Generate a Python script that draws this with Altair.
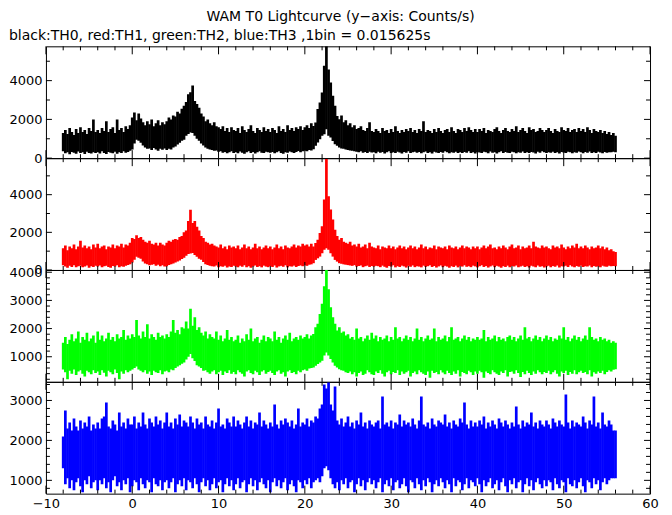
import altair as alt
import pandas as pd

# 1 bin shown here = 0.25 s envelope of the 0.015625 s light curve, t = -8 ... 56 s
T = [-8 + 0.25 * i for i in range(257)]

TH0_HI = [1300, 1450, 1250, 1550, 1350, 1200, 1500, 1300, 1600, 1350, 1450, 1250, 1550, 1400, 2000, 1350,
          1450, 1300, 1550, 1400, 1900, 1350, 1500, 1600, 1300, 2000, 1450, 1550, 1350, 1650, 1500, 1700,
          2100, 2350, 1950, 2300, 2050, 1850, 1700, 1900, 1750, 2000, 1650, 1800, 1950, 1700, 1850, 1750,
          1900, 2100, 2000, 2200, 2150, 2400, 2300, 2550, 2700, 2900, 3300, 3400, 3750, 2950, 2800, 2600,
          2300, 2150, 1900, 2000, 1800, 1700, 1850, 1650, 1600, 1500, 1650, 1400, 1550, 1350, 1600, 1450,
          1400, 1550, 1300, 1650, 1450, 1350, 1500, 1700, 1400, 1300, 1550, 1450, 1350, 1600, 1400, 1500,
          1350, 1550, 1450, 1300, 1650, 1400, 1500, 1350, 1700, 1450, 1550, 1400, 1600, 1500, 1650, 1450,
          1600, 1700, 1550, 1800, 1665, 1840, 2530, 2870, 3390, 4770, 5770, 4580, 3900, 3220, 2700, 2180,
          2010, 2200, 1850, 1950, 1700, 1800, 1600, 1700, 1500, 1550, 1650, 1450, 1400, 1550, 1850, 1400,
          1350, 1500, 1400, 1300, 1550, 1400, 1450, 1300, 1500, 1350, 1650, 1400, 1300, 1450, 1350, 1500,
          1400, 1550, 1350, 1450, 1300, 1500, 1400, 1900, 1350, 1450, 1400, 1300, 1500, 1350, 1550, 1400,
          1300, 1450, 1500, 1350, 1600, 1400, 1300, 1500, 1450, 1350, 1550, 1400, 1600, 1450, 1350, 1500,
          1350, 1500, 1400, 1550, 1300, 1450, 1400, 1350, 1500, 1600, 1400, 1300, 1450, 1550, 1400, 1350,
          1500, 1400, 1650, 1350, 1450, 1550, 1400, 1300, 1600, 1450, 1500, 1350, 1400, 1550, 1450, 1350,
          1450, 1550, 1400, 1300, 1500, 1400, 1350, 1600, 1450, 1400, 1550, 1350, 1450, 1500, 1350, 1550,
          1400, 1500, 1350, 1600, 1450, 1300, 1500, 1400, 1350, 1450, 1300, 1400, 1250, 1350, 1200, 1300,
          1150]
TH0_LO = [350, 250, 300, 200, 320, 280, 230, 340, 260, 300, 220, 330, 270, 240, 310, 260,
          300, 240, 350, 270, 220, 320, 280, 250, 330, 230, 300, 270, 350, 280, 320, 380,
          450, 750, 950, 900, 800, 650, 550, 480, 500, 420, 520, 450, 380, 480, 430, 500,
          420, 480, 450, 550, 600, 700, 800, 900, 950, 1150, 1250, 1320, 1300, 1150, 1000, 900,
          750, 650, 550, 480, 450, 420, 380, 400, 330, 350, 280, 320, 250, 300, 350, 270,
          300, 250, 340, 280, 230, 310, 360, 270, 320, 240, 300, 350, 280, 260, 330, 300,
          280, 320, 250, 300, 350, 270, 230, 310, 280, 340, 300, 260, 320, 370, 300, 350,
          380, 350, 420, 400, 465, 635, 805, 980, 1150, 1235, 1490, 1150, 1060, 890, 720, 635,
          550, 500, 480, 450, 420, 400, 380, 350, 330, 300, 350, 280, 320, 260, 330, 290,
          300, 250, 330, 280, 320, 240, 310, 350, 270, 300, 260, 330, 290, 240, 320, 280,
          350, 260, 300, 330, 280, 320, 250, 300, 340, 270, 310, 240, 330, 290, 260, 320,
          280, 350, 300, 250, 310, 280, 330, 270, 300, 260, 320, 280, 350, 270, 300, 240,
          320, 290, 260, 330, 300, 250, 340, 280, 310, 240, 300, 350, 270, 320, 280, 260,
          330, 300, 250, 310, 280, 340, 270, 300, 260, 320, 290, 240, 330, 280, 350, 300,
          260, 310, 280, 330, 270, 300, 240, 320, 290, 260, 330, 300, 250, 310, 280, 340,
          300, 250, 320, 280, 340, 270, 300, 260, 330, 290, 250, 320, 280, 310, 300, 330,
          300]

TH1_HI = [1150, 1300, 1050, 1250, 1150, 1350, 1100, 1250, 1550, 1200, 1300, 1150, 1250, 1100, 1350, 1200,
          1400, 1150, 1250, 1300, 1100, 1250, 1200, 1350, 1150, 1300, 1250, 1400, 1200, 1350, 1300, 1450,
          1700, 1650, 1850, 1700, 1750, 1600, 1500, 1450, 1550, 1400, 1350, 1450, 1300, 1450, 1350, 1300,
          1450, 1550, 1500, 1600, 1650, 1600, 1750, 1800, 2000, 2100, 2600, 3200, 2500, 2600, 2300, 2100,
          1800, 1700, 1500, 1450, 1350, 1400, 1300, 1250, 1200, 1350, 1150, 1250, 1100, 1300, 1200, 1250,
          1150, 1300, 1100, 1200, 1350, 1150, 1250, 1100, 1200, 1400, 1150, 1250, 1100, 1200, 1300, 1150,
          1250, 1100, 1200, 1350, 1150, 1250, 1100, 1300, 1200, 1150, 1250, 1350, 1200, 1300, 1250, 1400,
          1300, 1350, 1250, 1400, 1250, 1430, 1600, 1960, 2320, 3740, 5900, 3920, 3210, 2680, 2140, 1800,
          1600, 1700, 1500, 1450, 1400, 1500, 1300, 1350, 1250, 1400, 1200, 1250, 1350, 1150, 1450, 1250,
          1200, 1150, 1300, 1100, 1250, 1200, 1150, 1300, 1150, 1250, 1100, 1200, 1300, 1150, 1250, 1100,
          1200, 1300, 1150, 1250, 1100, 1200, 1350, 1150, 1250, 1100, 1200, 1150, 1300, 1100, 1250, 1200,
          1150, 1250, 1100, 1300, 1200, 1150, 1250, 1100, 1200, 1300, 1150, 1250, 1200, 1100, 1250, 1150,
          1250, 1100, 1200, 1300, 1150, 1250, 1350, 1150, 1200, 1100, 1250, 1150, 1300, 1200, 1100, 1250,
          1350, 1150, 1200, 1300, 1100, 1250, 1150, 1200, 1300, 1150, 1500, 1250, 1200, 1150, 1300, 1200,
          1250, 1150, 1100, 1300, 1200, 1250, 1150, 1350, 1200, 1100, 1250, 1150, 1300, 1200, 1400, 1150,
          1250, 1150, 1300, 1200, 1100, 1250, 1150, 1200, 1300, 1150, 1250, 1100, 1200, 1050, 1100, 1000,
          950]
TH1_LO = [250, 180, 120, 220, 160, 250, 140, 200, 230, 150, 180, 240, 120, 200, 160, 220,
          180, 240, 140, 200, 230, 160, 120, 210, 180, 250, 150, 200, 170, 230, 260, 300,
          400, 550, 700, 650, 600, 450, 350, 300, 250, 280, 300, 220, 280, 200, 250, 180,
          200, 260, 300, 350, 400, 450, 500, 580, 650, 750, 850, 880, 900, 800, 700, 600,
          550, 420, 300, 260, 220, 200, 180, 240, 150, 200, 170, 220, 130, 190, 160, 230,
          190, 140, 220, 170, 250, 150, 200, 120, 180, 240, 160, 200, 140, 230, 180, 150,
          210, 160, 240, 130, 190, 220, 170, 250, 140, 200, 180, 230, 160, 210, 240, 200,
          250, 220, 280, 300, 360, 535, 620, 710, 890, 1070, 1160, 1070, 890, 710, 535, 445,
          360, 330, 300, 280, 260, 240, 220, 260, 180, 210, 240, 150, 200, 230, 160, 210,
          180, 220, 200, 150, 230, 170, 120, 210, 180, 250, 140, 200, 160, 230, 190, 130,
          220, 170, 240, 150, 200, 180, 140, 230, 170, 200, 250, 160, 210, 130, 190, 240,
          150, 220, 180, 120, 200, 160, 230, 140, 210, 180, 250, 170, 200, 150, 230, 190,
          140, 200, 250, 160, 210, 130, 190, 240, 150, 220, 180, 120, 200, 160, 230, 140,
          210, 180, 240, 150, 190, 230, 160, 200, 130, 220, 180, 150, 240, 170, 200, 130,
          190, 230, 150, 210, 170, 240, 130, 200, 180, 220, 160, 250, 190, 140, 210, 170,
          230, 160, 200, 180, 240, 150, 210, 170, 200, 150, 220, 190, 170, 220, 200, 210,
          200]

TH2_HI = [1500, 1700, 1450, 1600, 1800, 1550, 1650, 1900, 1500, 1700, 1600, 1850, 1550, 1650, 1750, 1500,
          1900, 1600, 1750, 1550, 1650, 1850, 1600, 1700, 1550, 1800, 1650, 1700, 1950, 1600, 1750, 1650,
          1800, 1700, 2300, 1750, 1650, 1900, 1700, 2150, 1650, 1800, 1700, 1600, 1850, 1700, 1750, 1650,
          1800, 1700, 1900, 2300, 1850, 1950, 1800, 2050, 2000, 2250, 2000, 2700, 2100, 2400, 1950, 2050,
          1850, 1750, 1900, 1650, 1800, 1700, 1650, 1900, 1600, 1750, 1550, 1650, 1950, 1600, 1700, 1550,
          1600, 1750, 1500, 1650, 1550, 1800, 1600, 2000, 1550, 1650, 1700, 1500, 1600, 1750, 1550, 1700,
          1650, 1550, 1900, 1600, 1700, 1500, 1650, 1750, 1600, 1850, 1550, 1650, 1700, 1600, 1750, 1650,
          1700, 1800, 1650, 1750, 1810, 2050, 2170, 2520, 2880, 3500, 4080, 3400, 2760, 2400, 2170, 1930,
          2050, 1850, 1900, 1750, 1800, 1650, 1700, 1600, 2000, 1650, 1700, 1550, 1650, 1750, 1600, 1850,
          1650, 1750, 1550, 1700, 1600, 1650, 1750, 1550, 1700, 1600, 2050, 1650, 1700, 1550, 1650, 1750,
          1600, 1700, 1550, 1650, 2000, 1600, 1700, 1550, 1650, 1750, 1600, 1650, 2000, 1550, 1700, 1600,
          1650, 1750, 1550, 1700, 2050, 1600, 1650, 1700, 1550, 1650, 1750, 1600, 1700, 1550, 1650, 1600,
          1700, 1600, 1650, 1950, 1550, 1700, 1600, 1650, 1750, 1550, 1700, 1600, 1650, 1550, 1700, 1750,
          1600, 1700, 1550, 1650, 1750, 1600, 2050, 1650, 1700, 1550, 1650, 1750, 1600, 1700, 1550, 1650,
          1750, 1600, 1700, 1550, 1650, 1600, 1750, 1650, 2050, 1600, 1700, 1550, 1650, 1750, 1600, 1700,
          1550, 1650, 1750, 1600, 2050, 1700, 1600, 1650, 1550, 1700, 1600, 1650, 1550, 1600, 1500, 1550,
          1500]
TH2_LO = [550, 450, 200, 500, 400, 550, 350, 480, 520, 400, 300, 500, 450, 380, 520, 420,
          480, 350, 520, 430, 300, 500, 450, 380, 550, 420, 200, 480, 400, 520, 450, 500,
          550, 600, 650, 550, 500, 450, 520, 400, 480, 350, 500, 450, 420, 520, 380, 480,
          500, 450, 550, 520, 600, 650, 700, 750, 800, 900, 1000, 1100, 950, 850, 700, 650,
          600, 500, 520, 450, 400, 480, 520, 380, 450, 500, 350, 480, 420, 520, 400, 460,
          380, 520, 450, 400, 300, 480, 520, 420, 380, 500, 450, 350, 480, 520, 400, 460,
          500, 420, 350, 480, 520, 400, 450, 300, 480, 520, 420, 460, 380, 500, 450, 520,
          550, 500, 580, 600, 620, 680, 740, 800, 860, 1040, 1150, 1040, 920, 800, 680, 620,
          560, 520, 500, 450, 420, 480, 380, 450, 300, 420, 480, 350, 400, 520, 450, 380,
          350, 480, 420, 520, 400, 300, 450, 500, 380, 460, 420, 520, 350, 480, 400, 450,
          500, 300, 420, 480, 380, 520, 450, 400, 350, 480, 250, 500, 420, 460, 380, 520,
          440, 380, 500, 420, 350, 480, 400, 520, 300, 460, 420, 380, 500, 450, 350, 480,
          400, 500, 450, 250, 480, 420, 380, 520, 450, 400, 350, 480, 420, 520, 300, 460,
          480, 400, 520, 420, 280, 460, 380, 500, 420, 350, 480, 400, 520, 450, 380, 460,
          420, 500, 380, 450, 520, 400, 300, 480, 420, 500, 350, 460, 400, 520, 380, 450,
          500, 420, 460, 380, 520, 300, 450, 400, 480, 420, 500, 380, 460, 520, 480, 540,
          560]

TH3_HI = [2100, 2750, 2300, 2450, 2250, 2550, 2350, 2250, 2500, 2300, 2450, 2350, 2600, 2250, 2400, 2300,
          2450, 2300, 2550, 2600, 2950, 2350, 2300, 2500, 2400, 2250, 2700, 2350, 2450, 2300, 2550, 2400,
          2400, 2600, 2300, 2450, 2350, 2700, 2400, 2300, 2550, 2450, 2350, 2600, 2400, 2500, 2300, 2450,
          2700, 2350, 2450, 2300, 2550, 2400, 2650, 2350, 2500, 2450, 2350, 2600, 2450, 2300, 2550, 2400,
          2450, 2300, 2600, 2400, 2350, 2500, 2300, 2450, 2800, 2350, 2400, 2300, 2550, 2450, 2350, 2600,
          2350, 2500, 2400, 2300, 2450, 2600, 2350, 2500, 2300, 2450, 2400, 2700, 2350, 2500, 2400, 2300,
          2450, 2350, 2900, 2400, 2300, 2500, 2400, 2550, 2450, 2350, 2500, 2300, 2400, 2800, 2350, 2450,
          2400, 2550, 2350, 2500, 2450, 2600, 2550, 2800, 2900, 3400, 3300, 3450, 2900, 2750, 3350, 2500,
          2400, 2550, 2350, 2450, 2600, 2350, 2450, 2300, 2500, 2400, 2700, 2350, 2450, 2300, 2500, 2400,
          2350, 2450, 2500, 2300, 3100, 2400, 2450, 2350, 2500, 2300, 2450, 2400, 2650, 2350, 2500, 2400,
          2450, 2350, 2550, 2400, 2300, 2500, 3100, 2400, 2350, 2450, 2300, 2550, 2400, 2350, 2500, 2450,
          2400, 2650, 2350, 2450, 2300, 2500, 2400, 2350, 2550, 2450, 2950, 2400, 2300, 2500, 2350, 2450,
          2350, 2500, 2400, 2600, 2300, 2450, 2350, 2500, 2400, 2300, 2550, 2450, 2350, 2500, 2400, 2300,
          2450, 2350, 2850, 2400, 2300, 2500, 2350, 2450, 2400, 2700, 2350, 2450, 2300, 2500, 2400, 2350,
          2500, 2400, 2300, 2550, 2450, 2350, 2500, 2400, 2350, 3150, 2450, 2300, 2500, 2350, 2450, 2400,
          2350, 2600, 2450, 2300, 2500, 2400, 3100, 2350, 2450, 2300, 2700, 2400, 2350, 2500, 2400, 2250,
          2250]
TH3_LO = [1300, 900, 1050, 800, 1000, 750, 950, 1050, 850, 700, 1000, 900, 1100, 800, 950, 1000,
          750, 1000, 900, 1050, 800, 950, 700, 1000, 1100, 850, 950, 750, 1000, 900, 1050, 700,
          850, 1000, 950, 750, 1050, 900, 800, 1000, 950, 700, 1050, 900, 850, 1000, 750, 950,
          1000, 800, 950, 1050, 700, 900, 1000, 850, 1050, 750, 1000, 950, 800, 1050, 900, 700,
          950, 1050, 850, 1000, 750, 900, 1050, 800, 950, 1000, 700, 900, 1050, 850, 1000, 750,
          900, 1050, 800, 950, 1000, 700, 900, 1050, 850, 1000, 750, 950, 1050, 900, 800, 1000,
          700, 950, 1050, 850, 1000, 800, 950, 1050, 750, 900, 1000, 850, 700, 1000, 950, 800,
          1000, 900, 1050, 800, 950, 1000, 1050, 950, 1100, 1300, 1350, 1250, 1050, 900, 800, 950,
          750, 1000, 900, 1050, 800, 950, 1000, 700, 900, 1050, 850, 1000, 750, 950, 1050, 900,
          1000, 800, 950, 1050, 700, 900, 1000, 850, 1050, 750, 950, 1000, 800, 900, 1050, 850,
          700, 1000, 950, 800, 1050, 900, 750, 1000, 850, 1050, 950, 700, 900, 1000, 850, 1050,
          950, 800, 1000, 900, 700, 1050, 850, 1000, 950, 750, 900, 1050, 800, 1000, 950, 850,
          1050, 900, 700, 1000, 850, 950, 1050, 800, 900, 1000, 750, 950, 1050, 850, 700, 1000,
          900, 1050, 800, 950, 1000, 700, 900, 1050, 850, 1000, 750, 950, 1050, 900, 800, 1000,
          850, 1000, 950, 750, 1050, 900, 800, 1000, 950, 700, 1050, 900, 850, 1000, 800, 950,
          1050, 850, 700, 1000, 950, 800, 1050, 900, 1000, 750, 950, 1050, 900, 1000, 1050, 1050,
          1050]

COLORS = ["#000000", "#ff0000", "#00ff00", "#0000ff"]
Y_DOMAINS = [[0, 5770], [0, 5940], [110, 4080], [667, 3467]]
Y_LABELS = [[0, 2000, 4000], [0, 2000, 4000], [1000, 2000, 3000, 4000], [1000, 2000, 3000]]
Y_MAJOR = [[0, 2000, 4000], [0, 2000, 4000], [1000, 2000, 3000, 4000], [1000, 2000, 3000]]
Y_MINOR = [[1000, 3000, 5000], [1000, 3000, 5000],
           [200, 400, 600, 800, 1200, 1400, 1600, 1800, 2200, 2400, 2600, 2800, 3200, 3400, 3600, 3800],
           [800, 1200, 1400, 1600, 1800, 2200, 2400, 2600, 2800, 3200, 3400]]
X_MAJOR = [-10, 0, 10, 20, 30, 40, 50, 60]
X_MINOR = [-8, -6, -4, -2, 2, 4, 6, 8, 12, 14, 16, 18, 22, 24, 26, 28, 32, 34, 36, 38,
           42, 44, 46, 48, 52, 54, 56, 58]

TITLE = "WAM T0 Lightcurve (y\u2212axis: Counts/s)"
SUBTITLE = "black:TH0, red:TH1, green:TH2, blue:TH3 ,1bin = 0.015625s"
SERIES = [(TH0_HI, TH0_LO), (TH1_HI, TH1_LO), (TH2_HI, TH2_LO), (TH3_HI, TH3_LO)]

W, H = 605, 112
FONT = "DejaVu Sans"


def panel(i):
    hi, lo = SERIES[i]
    df = pd.DataFrame({"t": T, "hi": hi, "lo": lo})
    xs = alt.Scale(domain=[-10, 60], nice=False, zero=False)
    ys = alt.Scale(domain=Y_DOMAINS[i], nice=False, zero=False)
    if i == 3:
        xaxis = alt.Axis(values=X_MAJOR, format="d", grid=False, domain=False, ticks=False,
                         tickSize=0, labelPadding=4, labelFontSize=13, labelFont=FONT,
                         labelColor="black", title=None, labelFlush=False, labelOverlap=False)
    else:
        xaxis = None
    yaxis = alt.Axis(values=Y_LABELS[i], format="d", grid=False, domain=False, ticks=False,
                     tickSize=0, labelPadding=4, labelFontSize=13, labelFont=FONT,
                     labelColor="black", title=None, minExtent=37, maxExtent=37,
                     labelOverlap=False, labelFlush=False)
    band = alt.Chart(df).mark_rule(color=COLORS[i], clip=True, strokeWidth=2.7).encode(
        x=alt.X("t:Q", scale=xs, axis=xaxis),
        y=alt.Y("lo:Q", scale=ys, axis=yaxis),
        y2="hi:Q",
    )
    layers = [band]
    xmaj = pd.DataFrame({"t": X_MAJOR})
    xmin = pd.DataFrame({"t": X_MINOR})
    for d, ln in ((xmaj, 8), (xmin, 4)):
        for (a, b) in ((0, ln), (H - ln, H)):
            layers.append(alt.Chart(d).mark_rule(color="black", strokeWidth=1).encode(
                x=alt.X("t:Q", scale=xs, axis=xaxis), y=alt.value(a), y2=alt.value(b)))
    ymaj = pd.DataFrame({"lo": Y_MAJOR[i]})
    ymin = pd.DataFrame({"lo": Y_MINOR[i]})
    for d, ln in ((ymaj, 6), (ymin, 4)):
        for (a, b) in ((0, ln), (W - ln, W)):
            layers.append(alt.Chart(d).mark_rule(color="black", strokeWidth=1).encode(
                y=alt.Y("lo:Q", scale=ys, axis=yaxis), x=alt.value(a), x2=alt.value(b)))
    ch = alt.layer(*layers).properties(width=W, height=H)
    if i == 0:
        ch = ch.properties(title=alt.TitleParams(SUBTITLE, anchor="start", fontSize=14, font=FONT,
                                                 fontWeight="normal", color="black", offset=3))
    return ch


chart = alt.vconcat(*[panel(i) for i in range(4)], spacing=0, bounds="flush").properties(
    title=alt.TitleParams(TITLE, anchor="middle", fontSize=14, font=FONT, fontWeight="normal",
                          color="black", offset=4, dx=7),
    padding={"left": 0, "top": 2, "right": 5, "bottom": 0},
).configure_view(stroke="black", strokeWidth=1).configure_concat(spacing=0)

chart.save("out.html", embed_options={"renderer": "svg", "actions": False})
